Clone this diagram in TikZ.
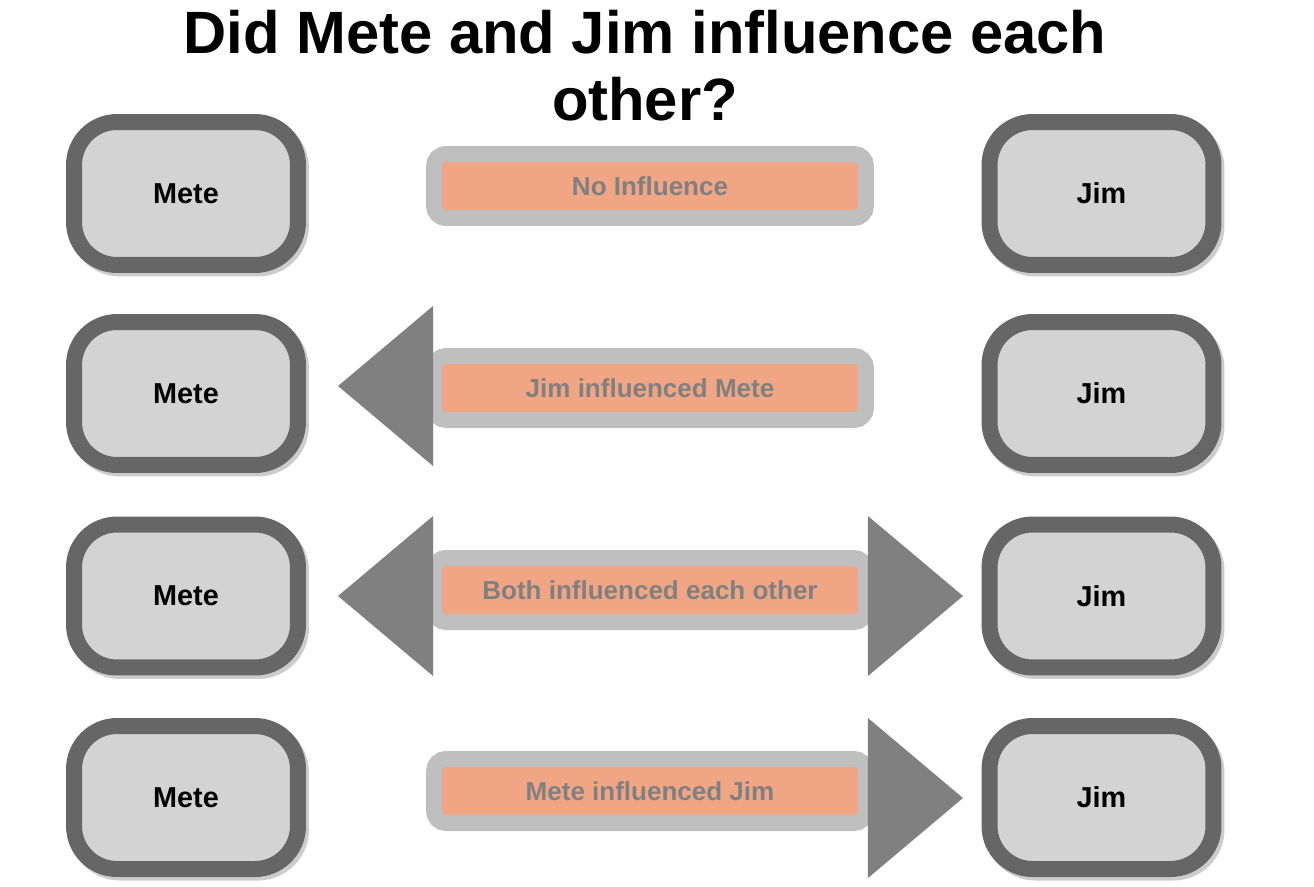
\documentclass[tikz,border=0pt]{standalone}
\usepackage{fontspec}
\setmainfont{Liberation Sans}
\usepackage{tikz}
\definecolor{boxgray}{HTML}{D3D3D3}
\definecolor{rimgray}{HTML}{666666}
\definecolor{bargray}{HTML}{BFBFBF}
\definecolor{barsalmon}{HTML}{F0A585}
\definecolor{headgray}{HTML}{808080}
\usetikzlibrary{positioning, shadows}

\begin{document}
\begin{tikzpicture}[x=0.02cm, y=-0.02cm]
                    \tikzstyle{every node}=[font=\bfseries]
                    \tikzstyle{person} = [draw=rimgray, fill=boxgray, line width=0.32cm, rounded corners=0.86cm, minimum width=4.48cm, minimum height=2.86cm, inner sep=0pt, font=\fontsize{16.4}{19}\selectfont\bfseries, general shadow={draw=black, fill=black, line width=0.32cm, opacity=0.2, shadow xshift=0.06cm, shadow yshift=-0.07cm}]
                    \tikzstyle{relation} = [draw=bargray, fill=barsalmon, line width=0.32cm, rounded corners=0.24cm, minimum width=8.64cm, minimum height=1.28cm, inner sep=0pt, text=headgray, font=\fontsize{14.8}{17}\selectfont\bfseries]
                    \tikzstyle{head} = [fill=headgray]

                    \useasboundingbox (0,0) rectangle (1314,886);

                    \node[align=center, font=\fontsize{34}{38}\selectfont\bfseries](title) at (645,66) {Did Mete and Jim influence each\\other?};

                    % left column
                    \node[person](mete1) at (186,193.5) {Mete};
                    \node[person](mete2) at (186,393.5) {Mete};
                    \node[person](mete3) at (186,596) {Mete};
                    \node[person](mete4) at (186,797.5) {Mete};

                    % right column
                    \node[person](jim1) at (1101.5,193.5) {Jim};
                    \node[person](jim2) at (1101.5,393.5) {Jim};
                    \node[person](jim3) at (1101.5,596) {Jim};
                    \node[person](jim4) at (1101.5,797.5) {Jim};

                    % the four answers
                    \node[relation](bar1) at (650,186) {No Influence};
                    \node[relation](bar2) at (650,388) {Jim influenced Mete};
                    \node[relation](bar3) at (650,590) {Both influenced each other};
                    \node[relation](bar4) at (650,791) {Mete influenced Jim};

                    % arrow heads
                    \fill[head] (bar2.west) ++(-88,-2) -- ++(95,-80) -- ++(0,160) -- cycle;
                    \fill[head] (bar3.west) ++(-88,6) -- ++(95,-80) -- ++(0,160) -- cycle;
                    \fill[head] (bar3.east) ++(89,6) -- ++(-95,-80) -- ++(0,160) -- cycle;
                    \fill[head] (bar4.east) ++(89,7) -- ++(-95,-80) -- ++(0,160) -- cycle;

\end{tikzpicture}
\end{document}
